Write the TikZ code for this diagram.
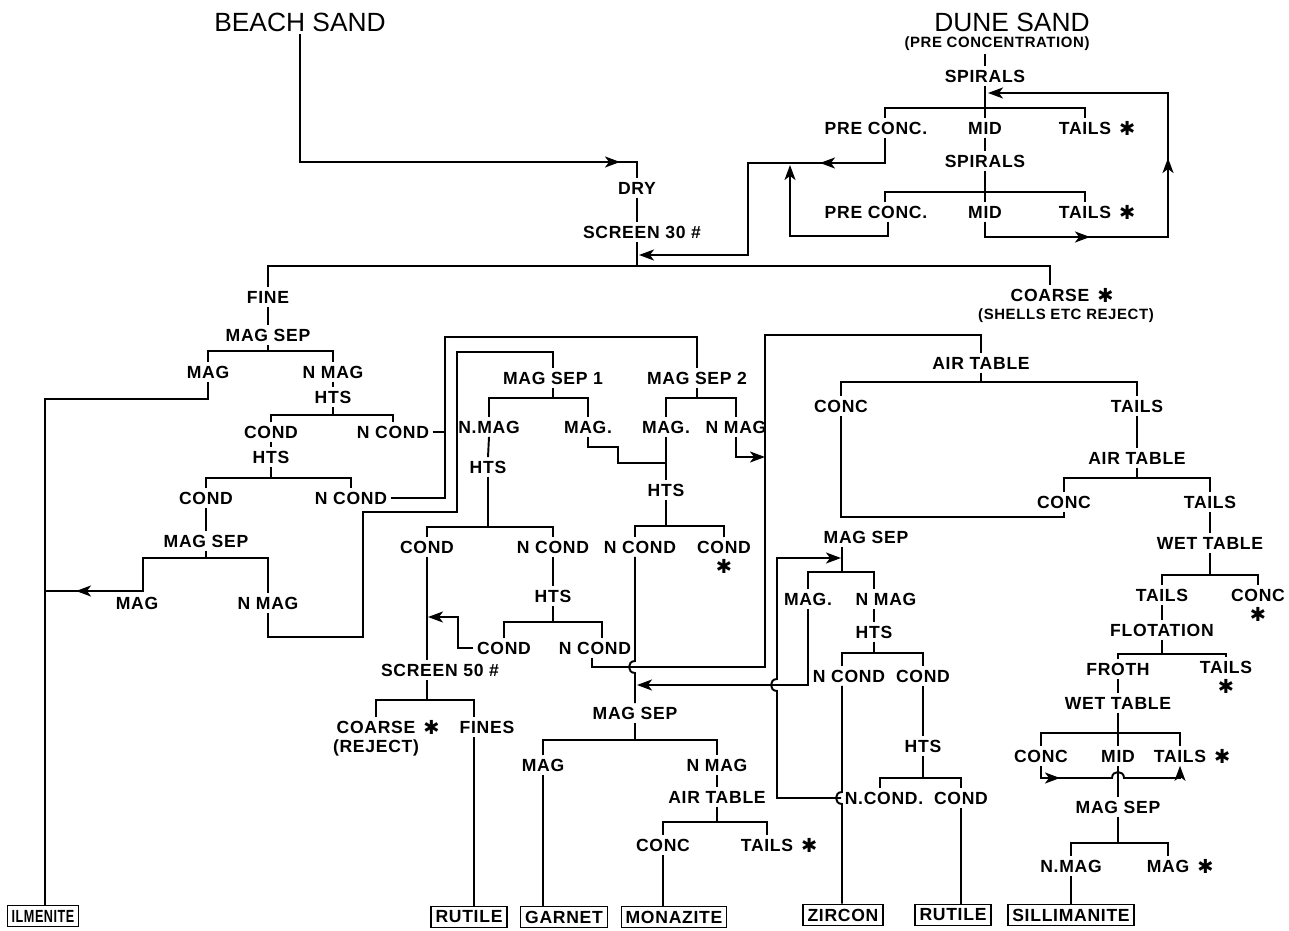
\documentclass[tikz,border=0pt]{standalone}
\usepackage{fontspec}
\setmainfont{Liberation Sans}
\newfontfamily\lblfont{Liberation Sans}[LetterSpace=4.0]
\newfontfamily\starfont{DejaVu Sans}
\usetikzlibrary{arrows.meta}
\newcommand{\stc}{{\starfont\fontsize{11}{11}\selectfont ✱}}

\begin{document}
\begin{tikzpicture}[x=0.2mm,y=-0.2mm,line width=1.1pt,>={Stealth[length=3mm,width=2.2mm,inset=0.8mm]},
  lbl/.style={font=\lblfont\bfseries\fontsize{10}{12}\selectfont,inner sep=1.5pt},
  sml/.style={font=\lblfont\bfseries\fontsize{8.5}{10}\selectfont,inner sep=1pt},
  ttl/.style={font=\fontsize{15}{18}\selectfont,inner sep=1pt},
  prod/.style={lbl,draw,line width=0.8pt,inner sep=2.5pt},
  sr/.style={label={[inner sep=0pt,label distance=2pt]right:\stc}},
  sb/.style={label={[inner sep=0pt,label distance=1pt]below:\stc}}]
\useasboundingbox (0,0) rectangle (1289,931);
% feeds
\node[ttl] (beach) at (300,22) {BEACH SAND};
\node[ttl] (dune) at (1012,22) {DUNE SAND};
\node[sml] (pcon) at (997,44) {(PRE CONCENTRATION)};
% spirals
\node[lbl] (sp1) at (985,76) {SPIRALS};
\node[lbl] (pc1) at (876,128) {PRE CONC.};
\node[lbl] (md1) at (985,128) {MID};
\node[lbl,sr] (tl1) at (1085,128) {TAILS};
\node[lbl] (sp2) at (985,161) {SPIRALS};
\node[lbl] (pc2) at (876,212) {PRE CONC.};
\node[lbl] (md2) at (985,212) {MID};
\node[lbl,sr] (tl2) at (1085,212) {TAILS};
% dry and screen
\node[lbl] (dry) at (637,188) {DRY};
\node[lbl] (scr) at (642,232) {SCREEN 30 \#};
\node[lbl] (fine) at (268,297) {FINE};
\node[lbl,sr] (crs) at (1050,295) {COARSE};
\node[sml] (shl) at (1066,316) {(SHELLS ETC REJECT)};
% fine branch
\node[lbl] (ms1) at (268,335) {MAG SEP};
\node[lbl] (mg1) at (208,372) {MAG};
\node[lbl] (nm1) at (333,372) {N MAG};
\node[lbl] (ht1) at (333,397) {HTS};
\node[lbl] (cd1) at (271,432) {COND};
\node[lbl] (nc1) at (393,432) {N COND};
\node[lbl] (ht2) at (271,457) {HTS};
\node[lbl] (cd2) at (206,498) {COND};
\node[lbl] (nc2) at (351,498) {N COND};
\node[lbl] (ms2) at (206,541) {MAG SEP};
\node[lbl] (mg2) at (137,603) {MAG};
\node[lbl] (nm2) at (268,603) {N MAG};
\node[prod] (ilm) at (43,916) {\scalebox{0.72}[1]{ILMENITE}};
% mag sep 1 and 2
\node[lbl] (msA) at (553,378) {MAG SEP 1};
\node[lbl] (msB) at (697,378) {MAG SEP 2};
\node[lbl] (nmA) at (489,427) {N.MAG};
\node[lbl] (mgA) at (588,427) {MAG.};
\node[lbl] (mgB) at (666,427) {MAG.};
\node[lbl] (nmB) at (736,427) {N MAG};
\node[lbl] (htA) at (488,467) {HTS};
\node[lbl] (htB) at (666,490) {HTS};
\node[lbl] (cdA) at (427,547) {COND};
\node[lbl] (ncA) at (553,547) {N COND};
\node[lbl] (ncB) at (640,547) {N COND};
\node[lbl,sb] (cdB) at (724,547) {COND};
\node[lbl] (htC) at (553,596) {HTS};
\node[lbl] (cdC) at (504,648) {COND};
\node[lbl] (ncC) at (595,648) {N COND};
\node[lbl] (scr2) at (440,670) {SCREEN 50 \#};
\node[lbl,sr] (crs2) at (376,727) {COARSE};
\node[lbl] (rej) at (376,748) {(REJECT)};
\node[lbl] (fns) at (487,727) {FINES};
\node[prod] (rut1) at (469,917) {RUTILE};
\node[lbl] (msC) at (635,713) {MAG SEP};
\node[lbl] (mgC) at (543,765) {MAG};
\node[lbl] (nmC) at (717,765) {N MAG};
\node[lbl] (atC) at (717,797) {AIR TABLE};
\node[lbl] (ccC) at (663,845) {CONC};
\node[lbl,sr] (tlC) at (767,845) {TAILS};
\node[prod] (gar) at (564,917) {GARNET};
\node[prod] (mon) at (674,917) {MONAZITE};
% air tables, wet tables, flotation
\node[lbl] (atA) at (981,363) {AIR TABLE};
\node[lbl] (ccA) at (841,406) {CONC};
\node[lbl] (tlA) at (1137,406) {TAILS};
\node[lbl] (atB) at (1137,458) {AIR TABLE};
\node[lbl] (ccB) at (1064,502) {CONC};
\node[lbl] (tlB) at (1210,502) {TAILS};
\node[lbl] (wtA) at (1210,543) {WET TABLE};
\node[lbl] (tlD) at (1162,595) {TAILS};
\node[lbl,sb] (ccD) at (1258,595) {CONC};
\node[lbl] (flo) at (1162,630) {FLOTATION};
\node[lbl] (frt) at (1118,669) {FROTH};
\node[lbl,sb] (tlE) at (1226,667) {TAILS};
\node[lbl] (wtB) at (1118,703) {WET TABLE};
\node[lbl] (ccE) at (1041,756) {CONC};
\node[lbl] (mdE) at (1118,756) {MID};
\node[lbl,sr] (tlF) at (1180,756) {TAILS};
\node[lbl] (msE) at (1118,807) {MAG SEP};
\node[lbl] (nmE) at (1071,866) {N.MAG};
\node[lbl,sr] (mgE) at (1168,866) {MAG};
\node[prod] (sil) at (1071,915) {SILLIMANITE};
% zircon circuit
\node[lbl] (msD) at (866,537) {MAG SEP};
\node[lbl] (mgD) at (808,599) {MAG.};
\node[lbl] (nmD) at (886,599) {N MAG};
\node[lbl] (htD) at (874,632) {HTS};
\node[lbl] (ncD) at (849,676) {N COND};
\node[lbl] (cdD) at (923,676) {COND};
\node[lbl] (htE) at (923,746) {HTS};
\node[lbl] (ncE) at (884,798) {N.COND.};
\node[lbl] (cdE) at (961,798) {COND};
\node[prod] (zir) at (843,915) {ZIRCON};
\node[prod] (rut2) at (953,915) {RUTILE};

% feed lines
\draw[->] (beach.south) |- (620,162);
\draw (612,162) -| (dry.north);
\draw (dry.south) -- (dry.south |- scr.north);
\draw (637,0 |- scr.south) -- (637,266);
\draw (fine.north) |- (1050,266) -- (crs.north);
% spirals
\draw (sp1.north) -- (sp1.north |- pcon.south);
\draw (sp1.south) -- (md1.north);
\draw (885,0 |- pc1.north) -- (885,108) -| (tl1.north);
\draw (md1.south) -- (sp2.north);
\draw (sp2.south) -- (md2.north);
\draw (885,0 |- pc2.north) -- (885,192) -| (tl2.north);
\draw[->] (885,0 |- pc1.south) |- (820,163);
\draw[->] (826,163) -| (748,255) -- (639,255);
\draw[->] (888,0 |- pc2.south) |- (790,236) -- (790,165);
\draw[->] (md2.south) |- (1090,237);
\draw[->] (1082,237) -| (1168,158);
\draw[->] (1168,164) |- (988,93);
% fine branch
\draw (fine.south) -- (ms1.north);
\draw (ms1.south) -- (268,351);
\draw (mg1.north) |- (nm1.north |- 0,351) -- (nm1.north);
\draw (mg1.south) |- (45,399) -- (45,0 |- ilm.north);
\draw (nm1.south) -- (ht1.north);
\draw (ht1.south) -- (333,415);
\draw (cd1.north) |- (nc1.north |- 0,415) -- (nc1.north);
\draw (cd1.south) -- (ht2.north);
\draw (ht2.south) -- (271,478);
\draw (cd2.north) |- (nc2.north |- 0,478) -- (nc2.north);
\draw (cd2.south) -- (ms2.north);
\draw (ms2.south) -- (206,558);
\draw[->] (nm2.north) |- (143,558) -- (143,591) -- (76,591);
\draw (82,591) -- (45,591);
\draw (nc1.east) -- (445,0 |- nc1.east);
\draw (nc2.east) -| (445,337) -| (msB.north);
\draw (nm2.south) |- (363,637) |- (457,512) |- (553,352) -- (msA.north);
% mag sep 1 and 2
\draw (msA.south) -- (553,398);
\draw (nmA.north) |- (mgA.north |- 0,398) -- (mgA.north);
\draw (msB.south) -- (697,398);
\draw (mgB.north) |- (nmB.north |- 0,398) -- (nmB.north);
\draw (nmA.south) -- (htA.north);
\draw (mgA.south) |- (618,447) |- (666,463);
\draw (mgB.south) -- (htB.north);
\draw[->] (nmB.south) |- (765,457);
\draw (htA.south) -- (488,527);
\draw (cdA.north) |- (ncA.north |- 0,527) -- (ncA.north);
\draw (htB.south) -- (666,526);
\draw (635,0 |- ncB.north) |- (cdB.north |- 0,526) -- (cdB.north);
\draw (635,0 |- ncB.south) -- (635,661) .. controls (627,661) and (627,673) .. (635,673) -- (msC.north);
\draw (ncA.south) -- (htC.north);
\draw (htC.south) -- (553,622);
\draw (cdC.north) |- (602,622) -- (602,0 |- ncC.north);
\draw (592,0 |- ncC.south) |- (765,667) |- (981,335) -- (atA.north);
\draw[->] (cdC.west) -| (458,617) -- (428,617);
\draw (cdA.south) -- (cdA.south |- scr2.north);
\draw (427,0 |- scr2.south) -- (427,700);
\draw (crs2.north) |- (474,700) -- (474,0 |- fns.north);
\draw (474,0 |- fns.south) -- (474,0 |- rut1.north);
% lower mag sep
\draw (msC.south) -- (635,740);
\draw (mgC.north) |- (nmC.north |- 0,740) -- (nmC.north);
\draw (mgC.south) -- (mgC.south |- gar.north);
\draw (nmC.south) -- (atC.north);
\draw (atC.south) -- (717,822);
\draw (ccC.north) |- (tlC.north |- 0,822) -- (tlC.north);
\draw (ccC.south) -- (ccC.south |- mon.north);
% air tables
\draw (atA.south) -- (981,382);
\draw (ccA.north) |- (tlA.north |- 0,382) -- (tlA.north);
\draw (ccA.south) |- (1064,517) -- (ccB.south);
\draw (tlA.south) -- (atB.north);
\draw (atB.south) -- (1137,478);
\draw (ccB.north) |- (tlB.north |- 0,478) -- (tlB.north);
\draw (tlB.south) -- (wtA.north);
\draw (wtA.south) -- (1210,575);
\draw (tlD.north) |- (ccD.north |- 0,575) -- (ccD.north);
\draw (tlD.south) -- (flo.north);
\draw (flo.south) -- (1162,654);
\draw (frt.north) |- (tlE.north |- 0,654) -- (tlE.north);
\draw (frt.south) -- (wtB.north);
\draw (wtB.south) -- (mdE.north);
\draw (ccE.north) |- (tlF.north |- 0,733) -- (tlF.north);
\draw[->] (ccE.south) |- (1060,778);
\draw[->] (1052,778) -- (1112,778) .. controls (1112,770) and (1124,770) .. (1124,778) -| (tlF.south);
\draw (mdE.south) -- (msE.north);
\draw (msE.south) -- (1118,843);
\draw (nmE.north) |- (mgE.north |- 0,843) -- (mgE.north);
\draw (nmE.south) -- (nmE.south |- sil.north);
% zircon circuit
\draw[->] (ncE.west) -| (777,691) .. controls (769,691) and (769,679) .. (777,679) |- (841,558);
\draw (842,0 |- msD.south) -- (842,572);
\draw (mgD.north) |- (874,572) -- (874,0 |- nmD.north);
\draw[->] (mgD.south) |- (637,685);
\draw (874,0 |- nmD.south) -- (htD.north);
\draw (htD.south) -- (874,653);
\draw (842,0 |- ncD.north) |- (cdD.north |- 0,653) -- (cdD.north);
\draw (842,0 |- ncD.south) -- (842,792) .. controls (834,792) and (834,804) .. (842,804) -- (842,0 |- zir.north);
\draw (cdD.south) -- (htE.north);
\draw (htE.south) -- (923,778);
\draw (880,0 |- ncE.north) |- (cdE.north |- 0,778) -- (cdE.north);
\draw (cdE.south) -- (cdE.south |- rut2.north);
\end{tikzpicture}
\end{document}
